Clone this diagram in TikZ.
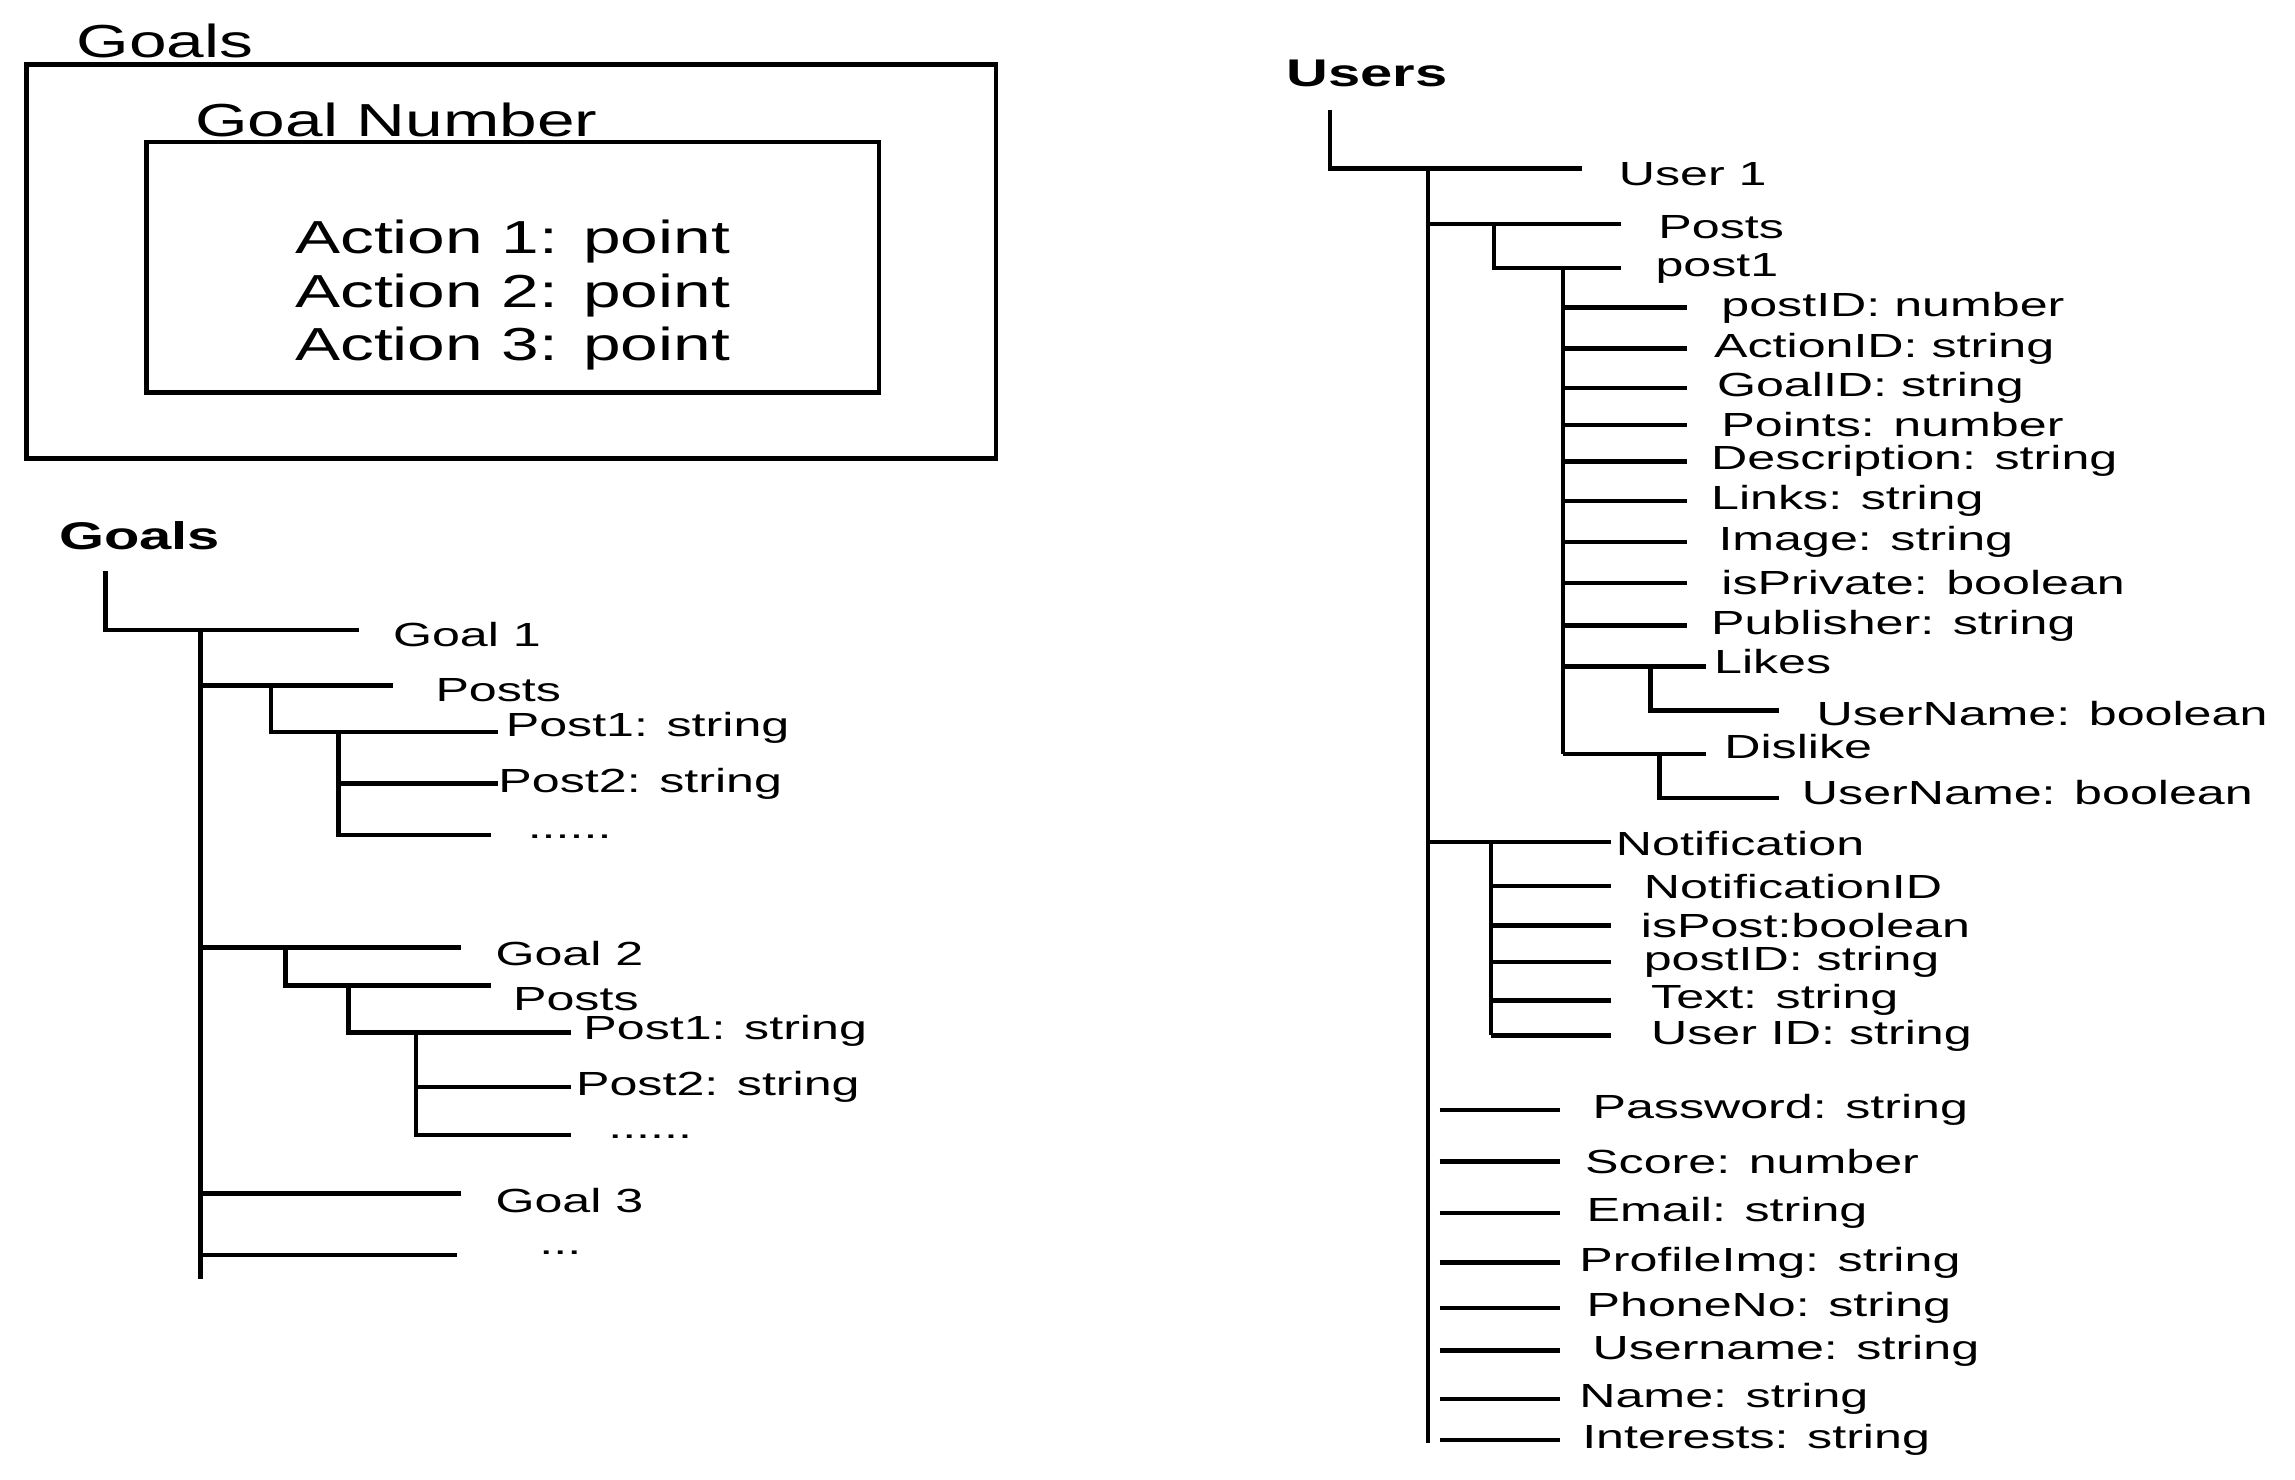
\documentclass[tikz,border=0pt]{standalone}
\usepackage{fontspec}
\setmainfont{Liberation Sans}
\newfontfamily\widefont[FakeStretch=1.5]{Liberation Sans}
\newfontfamily\bigfont[FakeStretch=1.46]{Liberation Sans}
\tikzset{
  tree/.style={line width=1.7pt},
  lbl/.style={anchor=west, inner sep=0pt, font=\widefont\fontsize{13}{15}\selectfont},
  big/.style={inner sep=0pt, font=\bigfont\fontsize{18}{21}\selectfont},
  head/.style={anchor=west, inner sep=0pt, font=\widefont\fontsize{15}{17}\selectfont\bfseries}
}
\begin{document}
\begin{tikzpicture}[x=0.02cm,y=-0.02cm]
\useasboundingbox (0,0) rectangle (1567,1010);

% schema box
\node (goalsbox) [big, anchor=west] at (52,28) {Goals};
\draw [tree] (18,44) rectangle (680,313);
\node (goalnum) [big, anchor=west] at (133,82) {Goal Number};
\draw [tree] (100,97) rectangle (600,268);
\node (act1) [big] at (350,165) {Action 1: point};
\node (act2) [big] at (350,202) {Action 2: point};
\node (act3) [big] at (350,238) {Action 3: point};

% goals tree
\node (goals) [head] at (40,366) {Goals};
\draw [tree] (72,390) |- (245,430);
\draw [tree] (137,430) -- (137,873);
\node (goal1) [lbl] at (268,433) {Goal 1};
\draw [tree] (137,468) -- (268,468);
\node (posts1) [lbl] at (297,471) {Posts};
\draw [tree] (185,468) |- (340,500);
\node (p11) [lbl] at (345,497) {Post1: string};
\draw [tree] (231,500) |- (335,570);
\draw [tree] (231,535) -- (340,535);
\node (p12) [lbl] at (340,535) {Post2: string};
\node (dots1) [lbl] at (360,571) {......};
\draw [tree] (137,647) -- (315,647);
\node (goal2) [lbl] at (338,651) {Goal 2};
\draw [tree] (195,647) |- (335,673);
\node (posts2) [lbl] at (350,682) {Posts};
\draw [tree] (238,673) |- (390,705);
\node (p21) [lbl] at (398,704) {Post1: string};
\draw [tree] (284,705) |- (390,775);
\draw [tree] (284,742) -- (390,742);
\node (p22) [lbl] at (393,742) {Post2: string};
\node (dots2) [lbl] at (415,776) {......};
\draw [tree] (137,815) -- (315,815);
\node (goal3) [lbl] at (338,820) {Goal 3};
\draw [tree] (137,857) -- (312,857);
\node (dots3) [lbl] at (368,855) {...};

% users tree
\node (users) [head] at (878,50) {Users};
\draw [tree] (908,75) |- (1080,115);
\draw [tree] (975,115) -- (975,985);
\node (user1) [lbl] at (1105,119) {User 1};
\draw [tree] (975,153) -- (1107,153);
\node (uposts) [lbl] at (1132,155) {Posts};
\draw [tree] (1020,153) |- (1107,183);
\node (post1) [lbl] at (1130,183) {post1};
\draw [tree] (1067,183) -- (1067,515);
\foreach \y/\x/\t in {210/1175/postID: number, 238/1170/ActionID: string,
    265/1172/GoalID: string, 290/1175/Points: number, 315/1168/Description: string,
    342/1168/Links: string, 370/1173/Image: string, 398/1175/isPrivate: boolean,
    427/1168/Publisher: string} {
  \draw [tree] (1067,\y) -- (1152,\y);
  \node (f\y) [lbl] at (\x,\y) {\t};
}
\draw [tree] (1067,455) -- (1165,455);
\node (likes) [lbl] at (1170,452) {Likes};
\draw [tree] (1127,455) |- (1215,485);
\node (likeuser) [lbl] at (1240,487) {UserName: boolean};
\draw [tree] (1067,515) -- (1165,515);
\node (dislike) [lbl] at (1177,510) {Dislike};
\draw [tree] (1133,515) |- (1215,545);
\node (dislikeuser) [lbl] at (1230,541) {UserName: boolean};
\draw [tree] (975,575) -- (1100,575);
\node (notif) [lbl] at (1103,576) {Notification};
\draw [tree] (1018,575) -- (1018,707);
\foreach \y/\x/\t in {605/1122/NotificationID, 632/1120/isPost:boolean,
    657/1122/postID: string, 683/1127/Text: string, 707/1127/User ID: string} {
  \draw [tree] (1018,\y) -- (1100,\y);
  \node (n\y) [lbl] at (\x,\y) {\t};
}
\foreach \y/\x/\t in {758/1087/Password: string, 793/1082/Score: number,
    828/1083/Email: string, 862/1078/ProfileImg: string, 893/1083/PhoneNo: string,
    922/1087/Username: string, 955/1078/Name: string, 983/1080/Interests: string} {
  \draw [tree] (983,\y) -- (1065,\y);
  \node (u\y) [lbl] at (\x,\y) {\t};
}
\end{tikzpicture}
\end{document}
